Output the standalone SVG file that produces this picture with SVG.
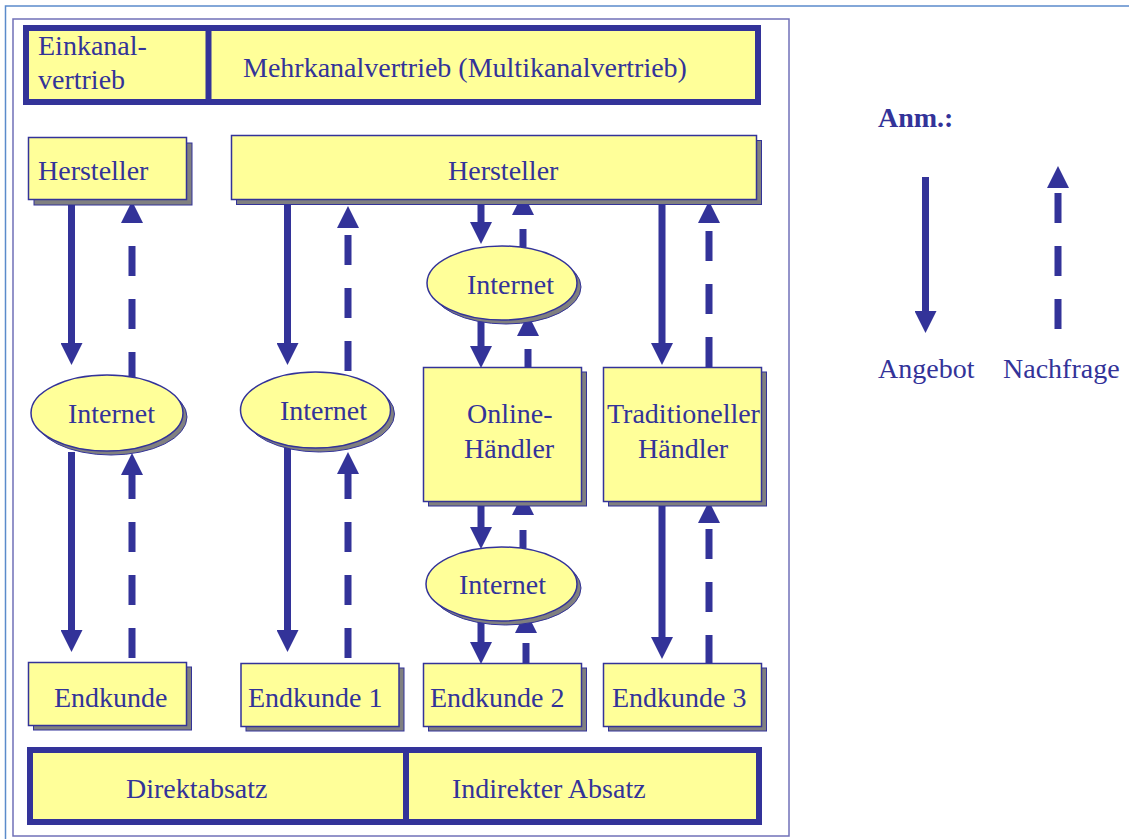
<svg xmlns="http://www.w3.org/2000/svg" width="1129" height="839" viewBox="0 0 1129 839">
<style>
.t{font-family:"Liberation Serif","Times New Roman",serif;font-size:28px;fill:#333399}
.b{fill:#FFFF99;stroke:#333399;stroke-width:1.5}
.s{fill:#808080;stroke:#333399;stroke-width:1}
.thick{fill:#FFFF99;stroke:#333399;stroke-width:6}
.a{fill:none;stroke:#333399;stroke-width:7;marker-end:url(#ah)}
.n{fill:none;stroke:#333399;stroke-width:7;stroke-dasharray:30 23;marker-end:url(#ah)}
</style>
<defs>
<marker id="ah" markerUnits="userSpaceOnUse" markerWidth="22" markerHeight="22" viewBox="0 0 22 22" refX="0" refY="11" orient="auto">
<path d="M0,0 L22,11 L0,22 Z" fill="#333399"/>
</marker>
</defs>
<rect width="1129" height="839" fill="#FFFFFF"/>
<path d="M5.5,839 V6 H1129" fill="none" stroke="#5B8BCB" stroke-width="1.5"/>
<rect x="13" y="19" width="776" height="817" fill="none" stroke="#7070B8" stroke-width="1.5"/>

<g id="connectors">
<path class="a" d="M71.5,200 V343"/>
<path class="a" d="M71.5,452 V630"/>
<path class="a" d="M287.5,200 V343"/>
<path class="a" d="M287.5,448 V630"/>
<path class="a" d="M481,200 V222"/>
<path class="a" d="M481,320 V346"/>
<path class="a" d="M481,502 V527"/>
<path class="a" d="M481,621 V642"/>
<path class="a" d="M662,200 V343"/>
<path class="a" d="M662,502 V637"/>
<path class="n" d="M132,377 V223" stroke-dashoffset="5"/>
<path class="n" d="M132,658 V475"/>
<path class="n" d="M348,371 V228"/>
<path class="n" d="M348,658 V474"/>
<path class="n" d="M523,247 V215" stroke-dashoffset="12"/>
<path class="n" d="M528,367 V336" stroke-dashoffset="12"/>
<path class="n" d="M523,548 V515" stroke-dashoffset="12"/>
<path class="n" d="M526,663 V633" stroke-dashoffset="10"/>
<path class="n" d="M709,367 V223"/>
<path class="n" d="M709,663 V523" stroke-dashoffset="2"/>
</g>

<g id="header">
<rect class="thick" x="26" y="28" width="732" height="74"/>
<line x1="208.5" y1="28" x2="208.5" y2="102" stroke="#333399" stroke-width="6"/>
<text class="t" x="38" y="55">Einkanal-</text>
<text class="t" x="38" y="89">vertrieb</text>
<text class="t" x="243" y="77">Mehrkanalvertrieb (Multikanalvertrieb)</text>
</g>

<g id="hersteller1">
<rect class="s" x="34" y="143" width="158" height="62"/>
<rect class="b" x="28.5" y="137.5" width="158" height="62"/>
<text class="t" x="38" y="180">Hersteller</text>
</g>
<g id="hersteller2">
<rect class="s" x="236.5" y="140.5" width="525" height="64"/>
<rect class="b" x="231.5" y="135.5" width="525" height="64"/>
<text class="t" x="448" y="180">Hersteller</text>
</g>

<g id="internet1">
<ellipse class="s" cx="111" cy="417" rx="76" ry="38"/>
<ellipse class="b" cx="107" cy="413" rx="76" ry="38"/>
<text class="t" x="68" y="423">Internet</text>
</g>
<g id="internet2">
<ellipse class="s" cx="319.5" cy="414" rx="75" ry="38"/>
<ellipse class="b" cx="315.5" cy="410" rx="75" ry="38"/>
<text class="t" x="280" y="420">Internet</text>
</g>
<g id="internet3">
<ellipse class="s" cx="506" cy="287" rx="75" ry="37"/>
<ellipse class="b" cx="502" cy="283" rx="75" ry="37"/>
<text class="t" x="467" y="294">Internet</text>
</g>
<g id="internet4">
<ellipse class="s" cx="505.5" cy="588" rx="75.5" ry="37"/>
<ellipse class="b" cx="501.5" cy="584" rx="75.5" ry="37"/>
<text class="t" x="459" y="594">Internet</text>
</g>

<g id="onlinehaendler">
<rect class="s" x="428.5" y="372" width="158" height="134"/>
<rect class="b" x="423.5" y="367.5" width="158" height="134"/>
<text class="t" x="467" y="423">Online-</text>
<text class="t" x="464" y="458">Händler</text>
</g>
<g id="tradhaendler">
<rect class="s" x="608.5" y="372" width="158" height="134"/>
<rect class="b" x="603.5" y="367.5" width="158" height="134"/>
<text class="t" x="607" y="423">Traditioneller</text>
<text class="t" x="638" y="458">Händler</text>
</g>

<g id="endkunde">
<rect class="s" x="33.5" y="667" width="158" height="63"/>
<rect class="b" x="28.5" y="662.5" width="158" height="63"/>
<text class="t" x="54" y="707">Endkunde</text>
</g>
<g id="endkunde1">
<rect class="s" x="246" y="668" width="158" height="63"/>
<rect class="b" x="241" y="663.5" width="158" height="63"/>
<text class="t" x="248" y="707">Endkunde 1</text>
</g>
<g id="endkunde2">
<rect class="s" x="428.5" y="668" width="158" height="63"/>
<rect class="b" x="423.5" y="663.5" width="158" height="63"/>
<text class="t" x="430" y="707">Endkunde 2</text>
</g>
<g id="endkunde3">
<rect class="s" x="608.5" y="668" width="158" height="63"/>
<rect class="b" x="603.5" y="663.5" width="158" height="63"/>
<text class="t" x="612" y="707">Endkunde 3</text>
</g>

<g id="absatz">
<rect class="thick" x="30" y="750" width="729" height="72"/>
<line x1="406" y1="750" x2="406" y2="822" stroke="#333399" stroke-width="6"/>
<text class="t" x="126" y="798">Direktabsatz</text>
<text class="t" x="452" y="798">Indirekter Absatz</text>
</g>

<g id="legend">
<text class="t" x="878" y="127" font-weight="bold">Anm.:</text>
<path class="a" d="M925.5,177 V311"/>
<path class="n" d="M1058,329 V188"/>
<text class="t" x="878" y="378">Angebot</text>
<text class="t" x="1003" y="378">Nachfrage</text>
</g>
</svg>
